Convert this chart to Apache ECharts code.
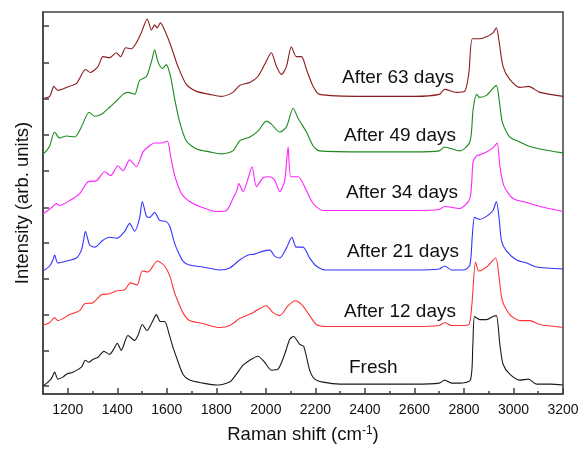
<!DOCTYPE html>
<html>
<head>
<meta charset="utf-8">
<script src="https://cdn.jsdelivr.net/npm/echarts@6/dist/echarts.min.js"></script>
<style>
  html, body { margin: 0; padding: 0; background: #fff; }
  #chart { width: 585px; height: 450px; }
</style>
</head>
<body>
<div id="chart"></div>
<script>
// Raman spectra, stacked with offsets (arbitrary units), [shift cm-1, intensity]
const fresh = [[1100,8],[1120,12],[1135,16],[1147,22],[1160,15],[1180,17],[1195,20],[1221,22],[1255,27],[1271,34],[1285,32],[1302,35],[1322,37],[1346,43],[1369,40],[1385,45],[1400,51],[1416,44],[1443,59],[1470,54],[1485,60],[1501,70],[1520,64],[1540,72],[1558,80],[1574,73],[1591,73],[1612,58],[1625,47],[1639,37],[1665,20],[1692,14],[1746,11],[1800,9],[1854,12],[1881,20],[1908,29],[1935,34],[1968,38],[1995,32],[2022,24],[2049,25],[2076,40],[2096,55],[2112,58],[2137,50],[2153,48],[2177,24],[2197,15],[2231,12],[2300,10],[2400,10],[2500,10],[2600,10],[2700,11],[2722,14],[2750,11],[2783,11],[2826,14],[2836,50],[2843,78],[2863,75],[2891,75],[2917,78],[2931,79],[2945,50],[2958,30],[2985,20],[3026,14],[3060,15],[3093,10],[3150,10],[3200,9]];
const day12 = [[1100,69],[1127,72],[1147,77],[1160,74],[1208,80],[1248,84],[1268,91],[1302,92],[1336,100],[1369,101],[1399,104],[1430,105],[1453,112],[1480,110],[1501,124],[1524,123],[1562,134],[1591,129],[1612,119],[1629,104],[1639,97],[1665,82],[1692,74],[1746,71],[1814,67],[1854,69],[1894,76],[1948,82],[2002,89],[2029,82],[2056,79],[2090,89],[2118,94],[2145,90],[2177,79],[2204,70],[2244,68],[2400,68],[2600,68],[2700,69],[2722,72],[2750,69],[2790,69],[2820,70],[2832,90],[2847,133],[2860,124],[2891,128],[2928,137],[2942,117],[2955,94],[2985,80],[3026,74],[3066,74],[3107,70],[3200,67]];
const day21 = [[1100,124],[1127,129],[1140,135],[1147,140],[1160,132],[1195,134],[1235,137],[1255,145],[1264,155],[1271,164],[1289,150],[1309,148],[1342,155],[1369,158],[1399,157],[1430,164],[1450,172],[1470,164],[1490,177],[1501,194],[1518,179],[1531,178],[1551,183],[1571,175],[1596,174],[1612,169],[1629,154],[1639,147],[1665,134],[1692,130],[1746,128],[1814,125],[1854,127],[1894,135],[1928,140],[1955,141],[1989,144],[2016,145],[2036,139],[2056,137],[2083,147],[2105,158],[2123,148],[2150,148],[2177,137],[2204,129],[2240,125],[2400,125],[2600,125],[2700,126],[2722,129],[2750,125],[2800,125],[2824,130],[2834,160],[2843,178],[2863,176],[2891,179],[2917,185],[2931,194],[2942,177],[2952,154],[2972,144],[3013,135],[3053,132],[3093,128],[3200,126]];
const day34 = [[1100,182],[1107,183],[1125,186],[1140,189],[1154,192],[1167,190],[1208,195],[1248,202],[1282,214],[1316,215],[1349,224],[1373,220],[1403,230],[1423,225],[1450,236],[1477,229],[1504,244],[1524,249],[1551,253],[1578,253],[1602,255],[1615,240],[1632,220],[1659,202],[1692,194],[1733,189],[1800,184],[1841,185],[1867,197],[1883,205],[1891,212],[1908,204],[1928,217],[1944,229],[1962,209],[1989,218],[2016,219],[2036,215],[2056,204],[2076,215],[2090,249],[2101,219],[2130,219],[2164,205],[2191,192],[2231,185],[2400,185],[2600,185],[2700,186],[2722,189],[2783,187],[2824,197],[2837,234],[2851,240],[2863,241],[2891,244],[2917,248],[2934,253],[2945,230],[2961,210],[2998,197],[3053,193],[3107,189],[3200,184]];
const day49 = [[1100,242],[1110,244],[1127,250],[1147,264],[1167,258],[1195,260],[1228,259],[1255,269],[1286,284],[1309,280],[1336,282],[1369,289],[1403,297],[1423,302],[1443,304],[1470,302],[1490,316],[1518,320],[1538,335],[1551,347],[1564,335],[1582,328],[1598,332],[1615,320],[1632,297],[1652,274],[1679,255],[1720,247],[1773,244],[1820,242],[1867,245],[1894,255],[1935,259],[1968,265],[2002,275],[2022,272],[2056,264],[2083,269],[2110,288],[2130,278],[2164,264],[2191,250],[2217,245],[2400,244],[2600,244],[2700,245],[2722,249],[2783,245],[2824,254],[2837,287],[2851,302],[2863,299],[2891,301],[2917,308],[2931,311],[2942,297],[2955,274],[2985,259],[3026,254],[3060,250],[3107,247],[3200,243]];
const day63 = [[1100,298],[1127,300],[1144,310],[1160,306],[1195,309],[1235,313],[1272,327],[1291,324],[1322,330],[1342,340],[1369,339],[1396,344],[1413,340],[1434,349],[1457,348],[1477,354],[1497,364],[1521,378],[1538,367],[1551,372],[1561,369],[1574,374],[1594,365],[1619,349],[1645,330],[1679,312],[1720,305],[1773,302],[1820,300],[1867,304],[1894,311],[1935,314],[1968,320],[1995,332],[2022,344],[2043,330],[2063,322],[2083,330],[2103,350],[2123,340],[2144,340],[2164,327],[2191,310],[2217,302],[2400,300],[2600,300],[2700,302],[2722,307],[2769,304],[2803,305],[2820,324],[2834,358],[2863,358],[2891,360],[2917,364],[2931,369],[2942,355],[2958,330],[2985,317],[3026,309],[3060,310],[3107,304],[3200,300]];

const seriesNames = ['Fresh', 'After 12 days', 'After 21 days', 'After 34 days', 'After 49 days', 'After 63 days'];
const seriesData = [fresh, day12, day21, day34, day49, day63];
const colors = ['#1a1a1a', '#ff3333', '#3333ff', '#ff22ff', '#1a8a1a', '#8b1a1a'];
const majorTicks = [1200, 1400, 1600, 1800, 2000, 2200, 2400, 2600, 2800, 3000, 3200];
const minorTicks = [1100, 1300, 1500, 1700, 1900, 2100, 2300, 2500, 2700, 2900, 3100];
const yTicks = [8, 44, 80, 116, 152, 188, 225, 261, 298, 334, 371];

// label placement (px)
const labelLeft = [349, 344, 347, 346, 344, 342];
const labelMidY = [368, 312, 252, 193, 136, 78];

const chart = echarts.init(document.getElementById('chart'));
const font = 'Liberation Sans, Arial, sans-serif';
const axisColor = '#404040';

const option = {
  animation: false,
  grid: {
    left: 43, right: 22, top: 12, bottom: 53,
    show: true, borderColor: axisColor, borderWidth: 1.5
  },
  xAxis: [{
    type: 'value', min: 1100, max: 3200,
    name: 'Raman shift (cm{sup|-1})',
    nameLocation: 'middle', nameGap: 31,
    nameTextStyle: {
      fontFamily: font, fontSize: 18.5, color: '#111',
      rich: { sup: { fontFamily: font, fontSize: 12, color: '#111', verticalAlign: 'top', lineHeight: 12, padding: [0, 0, 8, 0] } }
    },
    axisLine: { lineStyle: { color: axisColor, width: 1.5 } },
    axisTick: { inside: true, length: 6, customValues: majorTicks, lineStyle: { color: axisColor, width: 1.5 } },
    axisLabel: { customValues: majorTicks, formatter: v => String(v), fontFamily: font, fontSize: 14, color: '#111', margin: 9 },
    splitLine: { show: false }
  }, {
    type: 'value', min: 1100, max: 3200, position: 'bottom',
    axisLine: { show: false },
    axisTick: { inside: true, length: 3, customValues: minorTicks, lineStyle: { color: axisColor, width: 1.5 } },
    axisLabel: { show: false },
    splitLine: { show: false }
  }],
  yAxis: {
    type: 'value', min: 0, max: 385,
    name: 'Intensity (arb. units)',
    nameLocation: 'middle', nameGap: 11,
    nameTextStyle: { fontFamily: font, fontSize: 18.5, color: '#111' },
    axisLine: { lineStyle: { color: axisColor, width: 1.5 } },
    axisTick: { inside: true, length: 6, customValues: yTicks, lineStyle: { color: axisColor, width: 1.5 } },
    axisLabel: { show: false },
    splitLine: { show: false }
  },
  graphic: seriesNames.map((n, i) => ({
    type: 'text',
    style: {
      text: n, x: labelLeft[i], y: labelMidY[i],
      textAlign: 'left', textVerticalAlign: 'middle',
      font: '19px ' + font, fill: '#111'
    }
  })),
  series: seriesData.map((d, i) => ({
    name: seriesNames[i],
    type: 'line',
    data: d,
    showSymbol: false,
    symbol: 'none',
    smooth: 0.25,
    lineStyle: { color: colors[i], width: 1.1 },
    z: 2
  }))
};

chart.setOption(option);
</script>
</body>
</html>
